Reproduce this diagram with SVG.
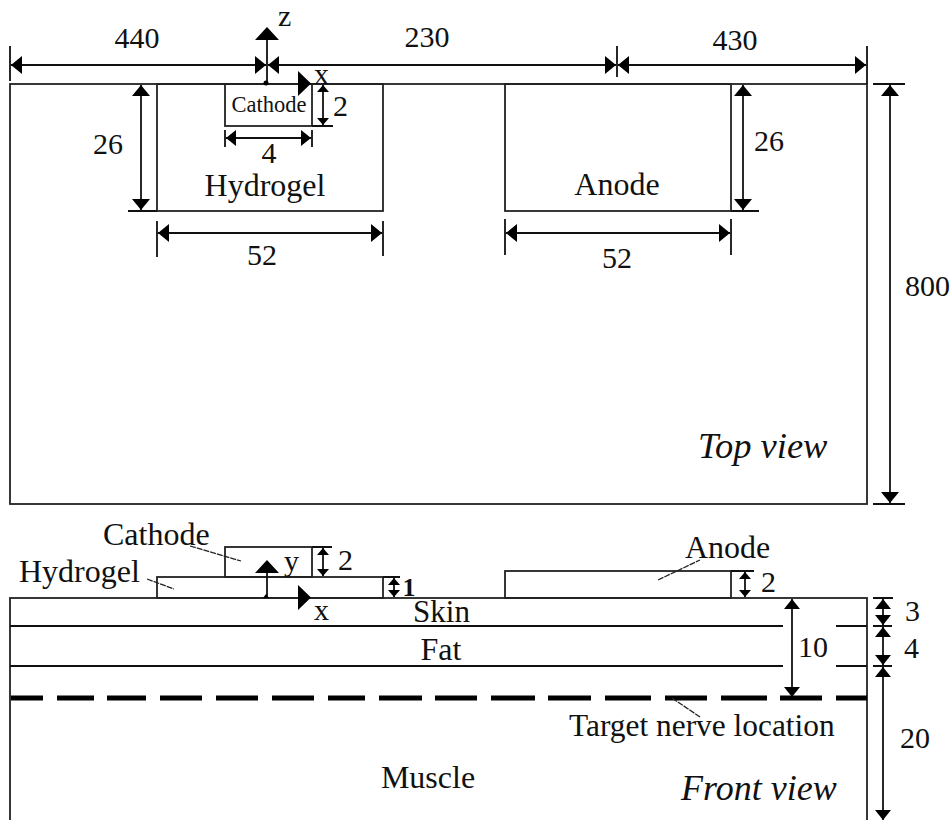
<svg xmlns="http://www.w3.org/2000/svg" width="950" height="820" viewBox="0 0 950 820">
<style>
text{font-family:"Liberation Serif","Times New Roman",serif;fill:#111;font-size:30px}
.w{font-size:32px}
.m{text-anchor:middle}
.i{font-style:italic;font-size:36.5px}
.box{fill:none;stroke:#222;stroke-width:1.8}
.ln{fill:none;stroke:#111;stroke-width:1.8}
.big{marker-start:url(#ab);marker-end:url(#ab)}
.mid{marker-start:url(#am);marker-end:url(#am)}
.sm{marker-start:url(#as);marker-end:url(#as)}
.lead{fill:none;stroke:#222;stroke-width:1.3;stroke-dasharray:6 1}
.tri{fill:#000}
</style>
<defs>
<marker id="ab" markerUnits="userSpaceOnUse" markerWidth="11" markerHeight="18" refX="11" refY="9" orient="auto-start-reverse"><path d="M0 0L11 9L0 18Z" fill="#000"/></marker>
<marker id="am" markerUnits="userSpaceOnUse" markerWidth="10" markerHeight="16" refX="10" refY="8" orient="auto-start-reverse"><path d="M0 0L10 8L0 16Z" fill="#000"/></marker>
<marker id="as" markerUnits="userSpaceOnUse" markerWidth="7" markerHeight="12" refX="7" refY="6" orient="auto-start-reverse"><path d="M0 0L7 6L0 12Z" fill="#000"/></marker>
</defs>
<rect width="950" height="820" fill="#fff"/>
<g id="top-view"><rect class="box" x="10" y="84" width="857" height="420"/></g>
<g id="top-hydrogel"><rect class="box" x="157" y="84" width="226" height="127"/><text class="m w" x="265" y="196">Hydrogel</text></g>
<g id="top-cathode"><rect class="box" x="225" y="84" width="87" height="42"/><text class="m" x="269" y="112" style="font-size:22.5px">Cathode</text></g>
<g id="top-anode"><rect class="box" x="505" y="84" width="226" height="127"/><text class="m w" x="617" y="195">Anode</text></g>
<g id="front-cathode"><rect class="box" x="225" y="547" width="87" height="30"/></g>
<g id="front-hydrogel"><rect class="box" x="157" y="577" width="226" height="21"/></g>
<g id="front-anode"><rect class="box" x="505" y="571" width="226" height="27"/></g>
<g id="front-view"><rect class="box" x="10" y="598" width="857" height="224"/>
<path class="ln" d="M10 626H783M836 626H867M10 666H783M836 666H867"/>
<path d="M11 698H43M57 698H94M107 698H146M160 698H202M216 698H258M272 698H314M328 698H365M379 698H422M435 698H477M491 698H535M548 698H591M605 698H651M665 698H707M721 698H767M780 698H822M836 698H867" fill="none" stroke="#000" stroke-width="5"/></g>
<g id="connectors">
<path class="ln" d="M10 46V81M617 46V77M867 46V84M157 221V257M383 221V256M505 219V255M731 219V255M225 130V147M312 130V147M128 211H157M731 211H759M312 126H333M873 84H905M873 504H905M312 547H332M383 577H400M731 571H754M873 598H893M873 626H892M873 666H892"/>
<path class="ln big" d="M11 65H266"/><path class="ln big" d="M268 65H616"/><path class="ln big" d="M618 65H866"/>
<path class="ln big" d="M141 85V210"/><path class="ln big" d="M743 85V210"/><path class="ln big" d="M890 85V503"/>
<path class="ln big" d="M158 233H382"/><path class="ln big" d="M506 233H730"/>
<path class="ln mid" d="M226 138H311"/>
<path class="ln sm" d="M323 85V125"/><path class="ln sm" d="M323 548V576"/><path class="ln sm" d="M394 578V597"/><path class="ln sm" d="M745 572V597"/>
<path class="ln mid" d="M792 599V697"/><path class="ln mid" d="M883 599V625"/><path class="ln mid" d="M883 627V665"/><path class="ln mid" d="M883 667V820"/>
<path class="ln" d="M267 40V84M267 573V598"/>
<path class="tri" d="M267 27L279 40H255ZM298 71L311 83.5L298 96ZM267 560L279 573H255ZM298 585L311 597.5L298 610Z"/>
<circle cx="266" cy="83" r="2.5"/><path d="M263 598L266 594L269 598Z"/>
<path class="lead" d="M190 546L241 561M147 579L174 589M658 580L700 560M672 698L700 717"/>
</g>
<g id="labels">
<text class="m" x="137" y="48">440</text><text class="m" x="427" y="47">230</text><text class="m" x="735" y="50">430</text>
<text x="278" y="26">z</text><text x="314" y="84">x</text><text x="333" y="116">2</text><text class="m" x="269" y="163">4</text>
<text class="m" x="108" y="154">26</text><text class="m" x="769" y="151">26</text><text class="m" x="262" y="265">52</text><text class="m" x="617" y="268">52</text>
<text x="905" y="296">800</text><text class="i" x="698" y="458">Top view</text>
<text class="w" x="103" y="545">Cathode</text><text class="w" x="19" y="582">Hydrogel</text><text class="w" x="685" y="558">Anode</text>
<text x="284" y="571">y</text><text x="314" y="620">x</text><text x="338" y="570">2</text><text x="402.5" y="596" style="font-weight:bold;font-size:26px">1</text><text x="761" y="592">2</text>
<text class="m" x="441.5" y="622" style="font-size:31px">Skin</text><text class="m w" x="441" y="660">Fat</text><text class="m w" x="428" y="788">Muscle</text>
<text x="569" y="736" style="font-size:31.4px">Target nerve location</text><text class="i" x="681" y="800" style="font-size:36px">Front view</text>
<text x="798" y="657">10</text><text x="905" y="621">3</text><text x="904" y="658">4</text><text x="900" y="748">20</text>
</g>
</svg>
